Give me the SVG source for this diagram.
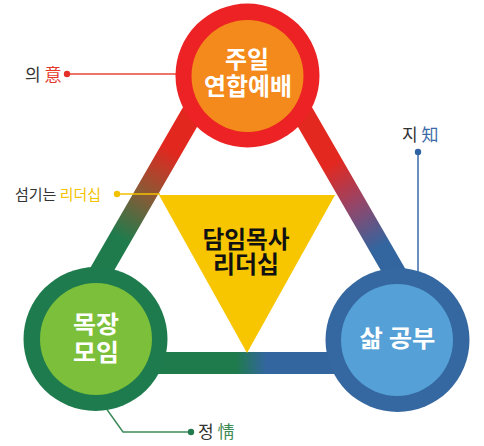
<svg xmlns="http://www.w3.org/2000/svg" width="484" height="446" viewBox="0 0 484 446">
<defs>
<linearGradient id="gL" gradientUnits="userSpaceOnUse" x1="171" y1="150" x2="120" y2="238">
<stop offset="0" stop-color="#e2271f"/><stop offset="0.5" stop-color="#8a5a36"/><stop offset="1" stop-color="#1f7b4c"/>
</linearGradient>
<linearGradient id="gR" gradientUnits="userSpaceOnUse" x1="330" y1="165" x2="378" y2="248">
<stop offset="0" stop-color="#e3281f"/><stop offset="0.5" stop-color="#93466a"/><stop offset="1" stop-color="#33659f"/>
</linearGradient>
<linearGradient id="gB" gradientUnits="userSpaceOnUse" x1="236" y1="0" x2="266" y2="0">
<stop offset="0" stop-color="#1f7b4c"/><stop offset="1" stop-color="#33669f"/>
</linearGradient>
<style>
.band{fill:none;stroke-width:22;stroke-linecap:round}
.t{font-family:"Noto Sans CJK KR","Noto Sans",sans-serif;font-weight:700;fill:#fff;text-anchor:middle;font-size:24px}
.lb{font-family:"Noto Sans CJK KR","Noto Sans",sans-serif;font-weight:400;fill:#333}
.ln{fill:none;stroke-width:1.5}
</style>
</defs>
<g id="connectors">
<line class="band" x1="247.5" y1="17.5" x2="48" y2="363" stroke="url(#gL)"/>
<line class="band" x1="247.5" y1="17.5" x2="447" y2="363" stroke="url(#gR)"/>
<line class="band" x1="48" y1="363" x2="447" y2="363" stroke="url(#gB)"/>
<polyline class="ln" points="67,74 178,74" stroke="#e8453a"/>
<circle cx="67" cy="74" r="3.2" fill="#e5302a"/>
<polyline class="ln" points="418,152 418,272" stroke="#3a6aa8"/>
<circle cx="418" cy="152" r="3.2" fill="#2f62a3"/>
<polyline class="ln" points="117,194 160,194" stroke="#f2c200"/>
<circle cx="117" cy="194" r="3.2" fill="#f2c200"/>
<polyline class="ln" points="191,432 123,432 103,404" stroke="#3c8a5a"/>
<circle cx="191" cy="432" r="3.2" fill="#237a4e"/>
</g>
<g id="leader">
<polygon points="159,195 335,195 247,353" fill="#f7c600"/>
<text class="t" style="fill:#111"><tspan x="246" y="247.5" textLength="87" lengthAdjust="spacingAndGlyphs">담임목사</tspan><tspan x="246" y="272.5" textLength="66" lengthAdjust="spacingAndGlyphs">리더십</tspan></text>
</g>
<g id="worship">
<circle cx="247.5" cy="75.5" r="72" fill="#ec2224"/>
<circle cx="247.5" cy="76" r="56" fill="#f38a1b"/>
<text class="t"><tspan x="247" y="68" textLength="44" lengthAdjust="spacingAndGlyphs">주일</tspan><tspan x="248" y="95" textLength="88" lengthAdjust="spacingAndGlyphs">연합예배</tspan></text>
</g>
<g id="cell">
<circle cx="95.5" cy="339" r="72" fill="#1e7b4d"/>
<circle cx="96" cy="339" r="56" fill="#7cbf3a"/>
<text class="t"><tspan x="96" y="333" textLength="46" lengthAdjust="spacingAndGlyphs">목장</tspan><tspan x="96" y="361" textLength="46" lengthAdjust="spacingAndGlyphs">모임</tspan></text>
</g>
<g id="life">
<circle cx="397.5" cy="340" r="72" fill="#3567a0"/>
<circle cx="397" cy="340" r="56" fill="#55a0d6"/>
<text class="t" x="397.5" y="347" textLength="76" lengthAdjust="spacingAndGlyphs">삶 공부</text>
</g>
<g id="labels">
<text class="lb" x="25" y="81" font-size="17">의 <tspan fill="#e5392b">意</tspan></text>
<text class="lb" x="402" y="141" font-size="17">지 <tspan fill="#3a6aa8">知</tspan></text>
<text class="lb" x="15" y="200" font-size="15">섬기는 <tspan fill="#f4c300">리더십</tspan></text>
<text class="lb" x="198" y="438" font-size="17">정 <tspan fill="#3d8a55">情</tspan></text>
</g>
</svg>
